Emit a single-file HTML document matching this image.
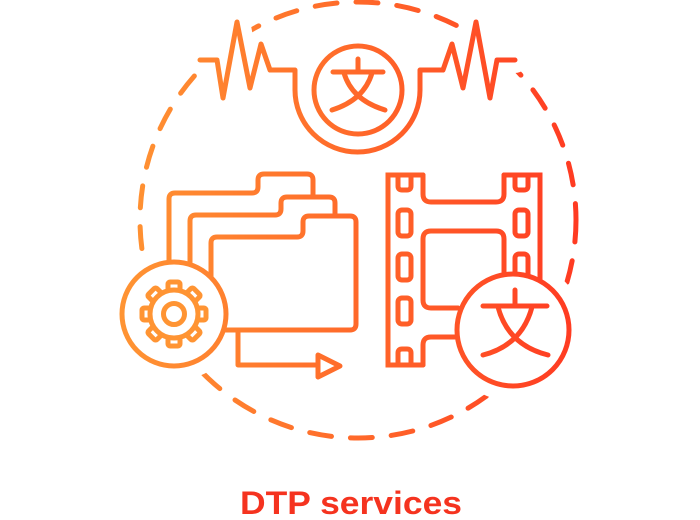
<!DOCTYPE html>
<html><head><meta charset="utf-8"><style>html,body{margin:0;padding:0;background:#fff}svg{display:block}</style></head><body>
<svg width="700" height="520" viewBox="0 0 700 520" xmlns="http://www.w3.org/2000/svg">
<defs>
<linearGradient id="g" gradientUnits="userSpaceOnUse" x1="120" y1="0" x2="580" y2="0">
<stop offset="0" stop-color="#ff9433"/><stop offset="0.5" stop-color="#ff6a2a"/><stop offset="1" stop-color="#ff3a22"/>
</linearGradient>
</defs>
<g fill="none" stroke="url(#g)" stroke-width="5" stroke-linecap="round" stroke-linejoin="round">
<circle cx="358" cy="220" r="218" stroke-dasharray="22 19"/>
<path stroke="#fff" stroke-width="26" d="M200,60 H217 L223,98 L237,22 L250,88 L261,44 L270,70 H295 V90 A62.5,62 0 0 0 420,90 V70 H443 L452,44 L463,88 L476,22 L490,98 L497,60 H515"/>
<circle cx="174" cy="314" r="52" fill="#fff" stroke="#fff" stroke-width="30"/>
<circle cx="513" cy="330" r="56" fill="#fff" stroke="#fff" stroke-width="30"/>
<path d="M200,60 H217 L223,98 L237,22 L250,88 L261,44 L270,70 H295 V90 A62.5,62 0 0 0 420,90 V70 H443 L452,44 L463,88 L476,22 L490,98 L497,60 H515"/>
<circle cx="358" cy="90" r="44" fill="#fff"/>
<path d="M358,59 V71 M333,72 H383 M344,73 Q352,100 385,110 M372,73 Q364,100 332,110"/>
<path fill="#fff" d="M169,262 V199 Q169,193 175,193 H252 Q258,193 258,187 V180 Q258,174 264,174 H307 Q313,174 313,180 V196"/>
<path fill="#fff" d="M190,266 V221 Q190,215 196,215 H275 Q281,215 281,209 V203 Q281,197 287,197 H329 Q335,197 335,203 V216"/>
<path fill="#fff" d="M211,277 V243 Q211,237 217,237 H297 Q303,237 303,231 V222 Q303,216 309,216 H350 Q356,216 356,222 V324 Q356,330 350,330 H223"/>
<path d="M238,332 V365 H318"/>
<path fill="#fff" d="M318,355 L340,366 L318,377 Z"/>
<circle cx="174" cy="314" r="52" fill="#fff"/>
<g transform="translate(174,314)" fill="#fff">
<rect x="-6" y="-32" width="12" height="11" rx="2"/>
<rect x="-6" y="-32" width="12" height="11" rx="2" transform="rotate(45)"/>
<rect x="-6" y="-32" width="12" height="11" rx="2" transform="rotate(90)"/>
<rect x="-6" y="-32" width="12" height="11" rx="2" transform="rotate(135)"/>
<rect x="-6" y="-32" width="12" height="11" rx="2" transform="rotate(180)"/>
<rect x="-6" y="-32" width="12" height="11" rx="2" transform="rotate(225)"/>
<rect x="-6" y="-32" width="12" height="11" rx="2" transform="rotate(270)"/>
<rect x="-6" y="-32" width="12" height="11" rx="2" transform="rotate(315)"/>
<circle r="23.5" stroke="none"/>
<circle r="24" fill="none"/>
<circle r="10.5"/>
</g>
<path stroke-linejoin="miter" d="M423,175 H388 V365 H423"/>
<path stroke-linejoin="miter" d="M504,175 H540 V285"/>
<path d="M423,175 V194 Q423,202 431,202 H496 Q504,202 504,194 V175"/>
<path d="M458,308 H431 Q423,308 423,300 V239 Q423,231 431,231 H496 Q504,231 504,239 V290"/>
<path d="M462,337 H431 Q423,337 423,345 V365"/>
<path d="M398,175 V186 Q398,190 402,190 H407 Q411,190 411,186 V175"/>
<path d="M515,175 V186 Q515,190 519,190 H524 Q528,190 528,186 V175"/>
<path d="M398,365 V353 Q398,349 402,349 H407 Q411,349 411,353 V365"/>
<rect x="398" y="210" width="13" height="26" rx="4"/>
<rect x="398" y="254" width="13" height="26" rx="4"/>
<rect x="398" y="298" width="13" height="26" rx="4"/>
<rect x="515" y="210" width="13" height="26" rx="4"/>
<rect x="515" y="254" width="13" height="26" rx="4"/>
<circle cx="513" cy="330" r="56" fill="#fff"/>
<path d="M515,290 V304 M483,306 H547 M498,307 Q508,345 548,355 M532,307 Q522,345 483,355"/>
</g>
<text x="351" y="514" text-anchor="middle" font-family="Liberation Sans, DejaVu Sans, sans-serif" font-weight="bold" font-size="32" fill="#f5331f" textLength="222" lengthAdjust="spacingAndGlyphs">DTP services</text>
</svg>
</body></html>
